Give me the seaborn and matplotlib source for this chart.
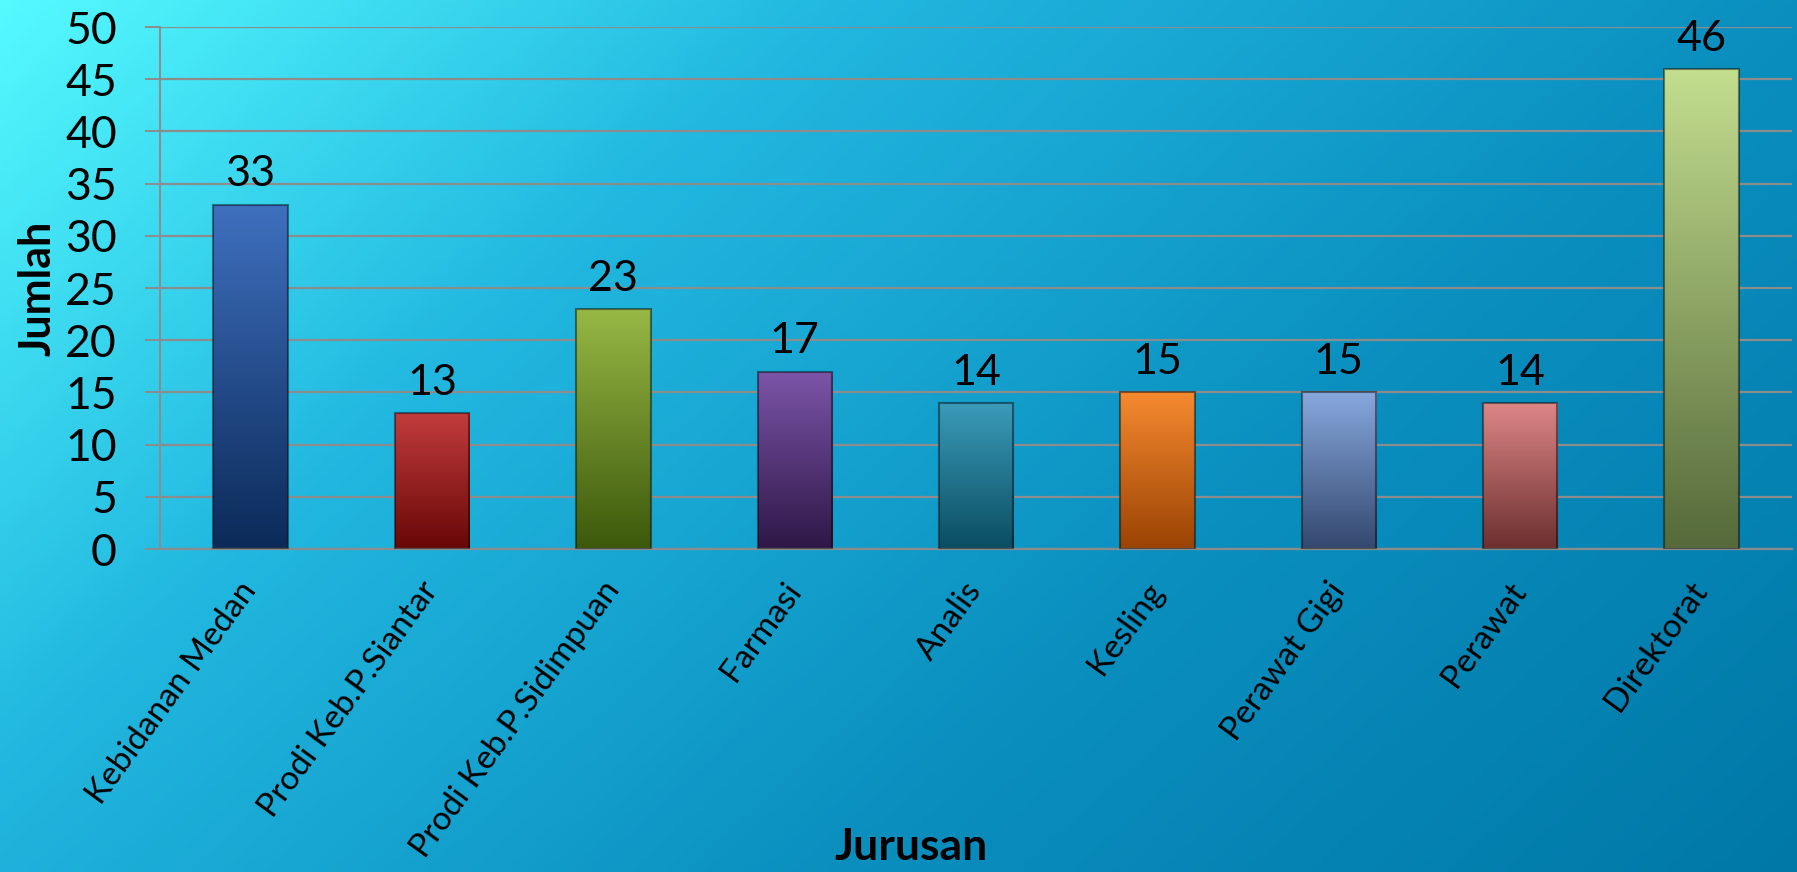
import numpy as np
import pandas as pd
import seaborn as sns
import matplotlib.pyplot as plt
from matplotlib.colors import LinearSegmentedColormap

# data
jurusan = ["Kebidanan Medan", "Prodi Keb.P.Siantar", "Prodi Keb.P.Sidimpuan",
           "Farmasi", "Analis", "Kesling", "Perawat Gigi", "Perawat", "Direktorat"]
jumlah = [33, 13, 23, 17, 14, 15, 15, 14, 46]
y_ticks = [0, 5, 10, 15, 20, 25, 30, 35, 40, 45, 50]

# bar colours: top of gradient, bottom of gradient
warna_atas = ["#3f70bf", "#c23c3d", "#98b845", "#7c55a9", "#3b9cba",
              "#f68a30", "#88a8de", "#de8787", "#c4de8f"]
warna_bawah = ["#0b2a58", "#680707", "#3c590b", "#2e1746", "#0a4d61",
               "#9a4303", "#33486e", "#6c2f2f", "#55693a"]

sns.set_theme(style="white")
plt.rcParams['font.family'] = ['Lato', 'DejaVu Sans']

fig = plt.figure(figsize=(17.97, 8.72), dpi=100)

# background gradient
bg = fig.add_axes([0, 0, 1, 1], zorder=-10)
xx, yy = np.meshgrid(np.linspace(0, 1, 400), np.linspace(0, 1, 200))
t = 0.65 * xx + 0.35 * yy
bg_cmap = LinearSegmentedColormap.from_list(
    "bg", [(0, "#55faff"), (0.3, "#22b8e0"), (0.65, "#0a8fbf"), (1, "#0078a7")])
bg.imshow(t, cmap=bg_cmap, aspect="auto", extent=[0, 1, 1, 0])
bg.set_axis_off()

ax = fig.add_axes([0.089, 0.3704, 0.9083, 0.5986])
ax.patch.set_alpha(0)

df = pd.DataFrame({"Jurusan": jurusan, "Jumlah": jumlah})
sns.barplot(data=df, x="Jurusan", y="Jumlah", hue="Jurusan", palette=warna_atas,
            legend=False, width=0.41, ax=ax, edgecolor=(0, 0, 0, 0.45),
            linewidth=1.5, zorder=3)

# gradient fill inside each bar
grad = np.linspace(0, 1, 256).reshape(-1, 1)
for patch, top, bottom in zip(ax.patches, warna_atas, warna_bawah):
    x0, y0 = patch.get_x(), patch.get_y()
    w, h = patch.get_width(), patch.get_height()
    cmap = LinearSegmentedColormap.from_list("bar", [bottom, top])
    im = ax.imshow(grad, extent=[x0, x0 + w, y0, y0 + h], origin="lower",
                   cmap=cmap, aspect="auto", zorder=2.5)
    im.set_clip_path(patch)
    patch.set_facecolor("none")

for cont in ax.containers:
    ax.bar_label(cont, fontsize=31, padding=8, color="black")

ax.set_xlim(-0.5, len(jurusan) - 0.5)
ax.set_ylim(0, 50)
ax.set_yticks(y_ticks)
ax.yaxis.grid(True, color="#8c8c8c", linewidth=1.6, zorder=0)
ax.set_axisbelow(True)

for side in ["top", "right"]:
    ax.spines[side].set_visible(False)
ax.spines["left"].set_color("#8c8c8c")
ax.spines["left"].set_linewidth(1.4)
ax.spines["bottom"].set_color("#8c8c8c")
ax.spines["bottom"].set_linewidth(1.6)

ax.tick_params(axis="y", labelsize=32, length=11, width=1.4, color="#8c8c8c",
               pad=20, left=True, labelcolor="black")
ax.tick_params(axis="x", length=0, pad=26, labelcolor="black")
ax.set_xticks(range(len(jurusan)))
ax.set_xticklabels(jurusan, rotation=54, ha="right", va="center",
                   rotation_mode="anchor", fontsize=24)

ax.set_ylabel("Jumlah", fontsize=31, fontweight="bold", color="black")
ax.yaxis.set_label_coords(-0.063, 0.5)
ax.set_xlabel("Jurusan", fontsize=32, fontweight="bold", color="black")
ax.xaxis.set_label_coords(0.46, -0.533)

plt.savefig("out.png", dpi=100)
